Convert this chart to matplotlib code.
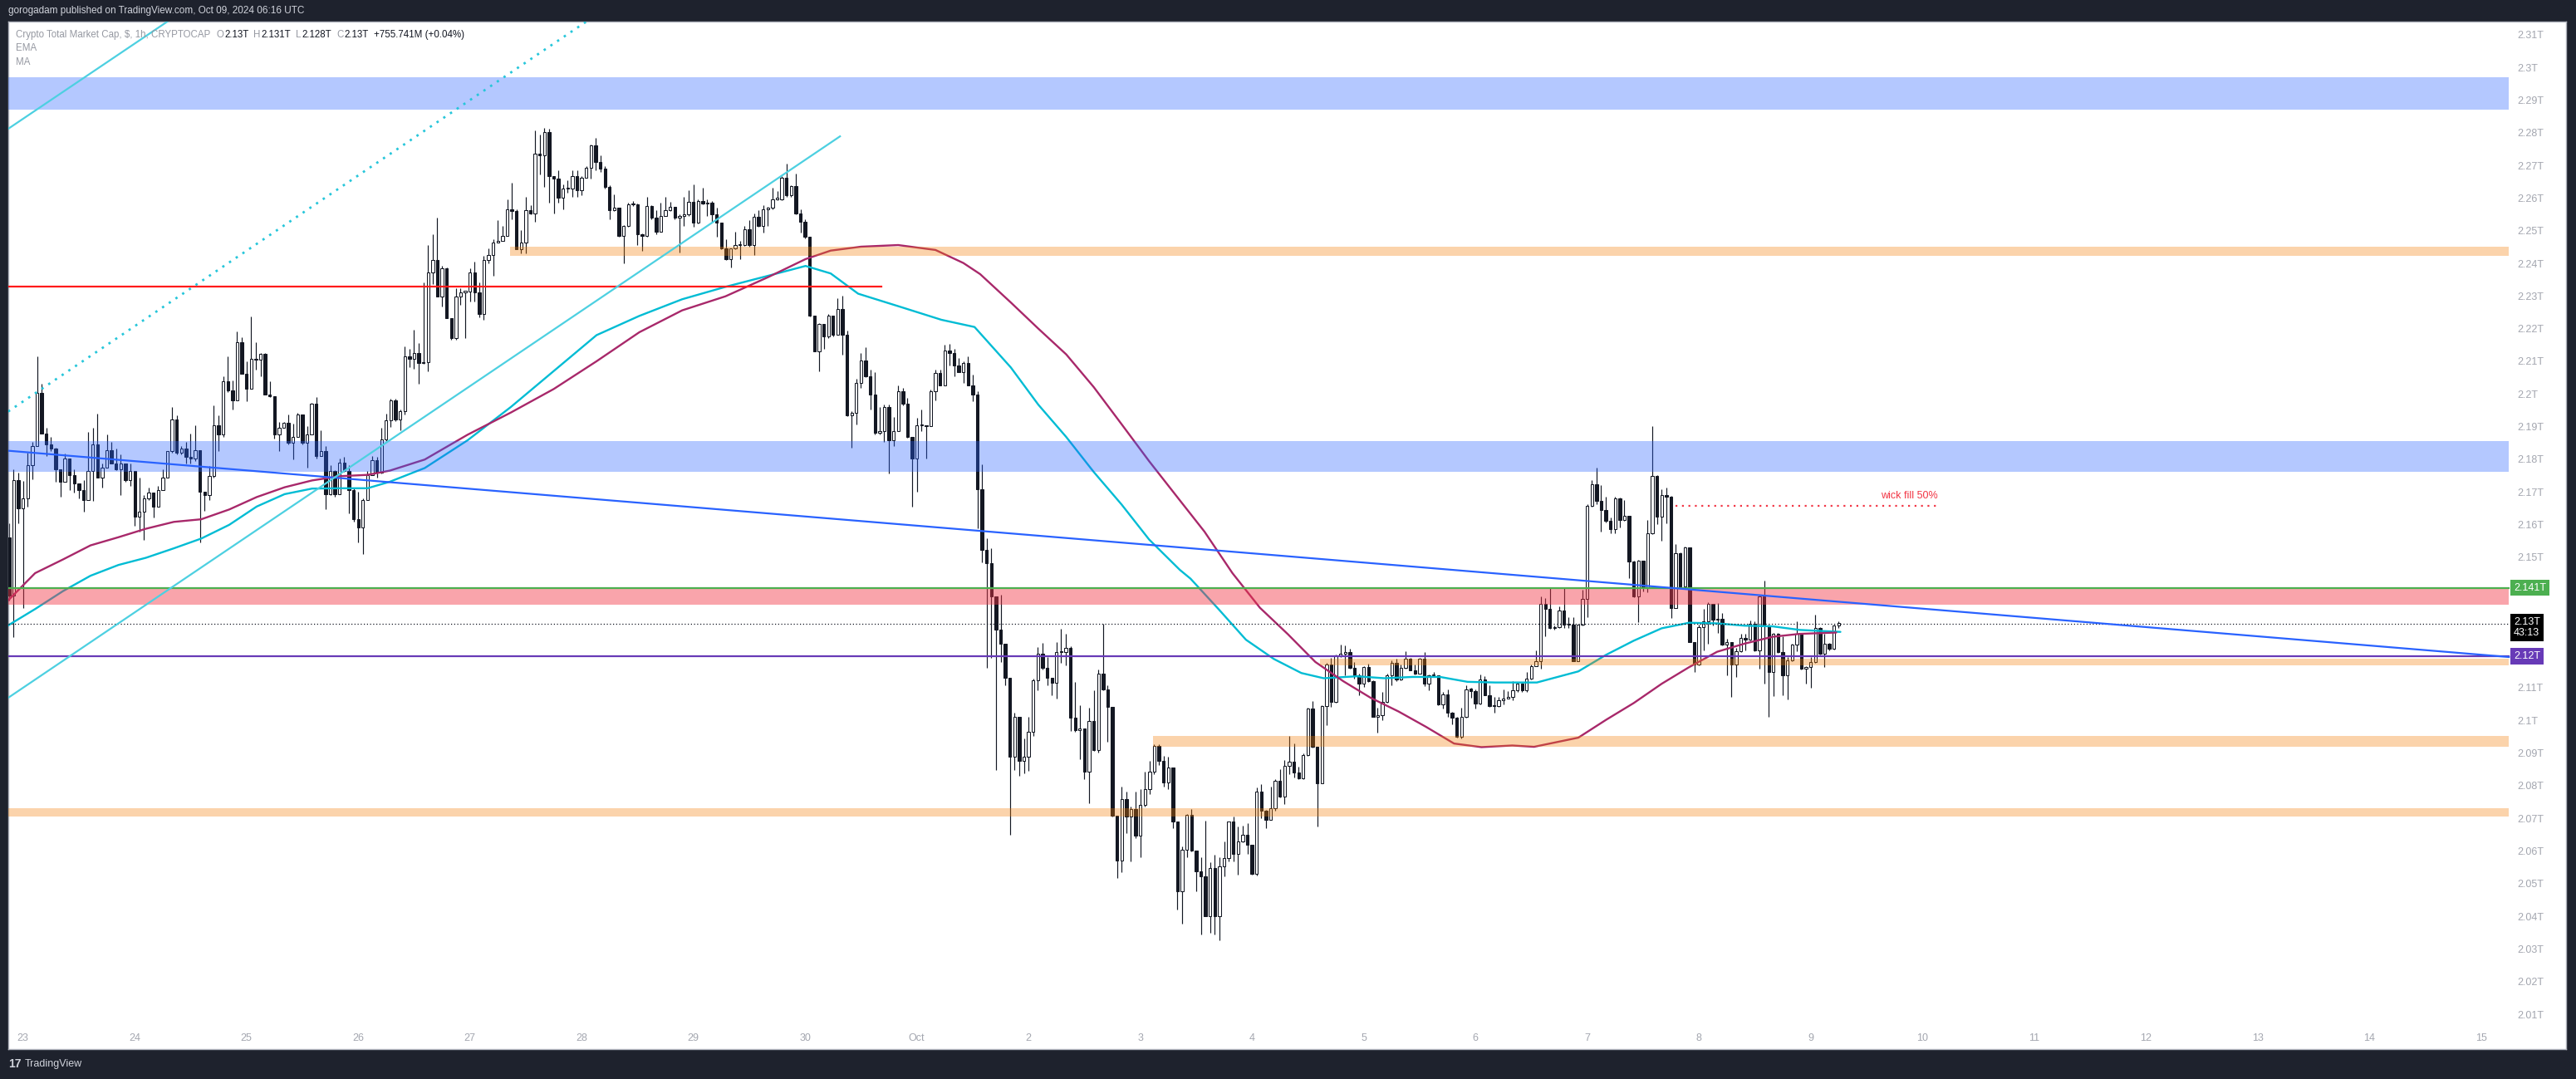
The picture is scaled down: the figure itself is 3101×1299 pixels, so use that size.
import matplotlib
matplotlib.use("Agg")
import matplotlib.pyplot as plt
import numpy as np
from matplotlib.transforms import blended_transform_factory

plt.rcParams['font.family'] = ['Liberation Sans', 'DejaVu Sans']

# ---------------- data (prices in billions of $, 1h candles) ----------------
# first candle is Sep 22 21:00 UTC; hours are counted from Sep 23 00:00
START_HOUR = -3
FIRST_OPEN = 2156.5

CLOSES = [
    2138.7, 2173.9, 2165.4, 2168.4, 2178.6, 2184.5, 2200.6, 2188.3, 2184.9, 2183.7, 2177.3, 2173.5,
    2180.7, 2175.6, 2173.1, 2171.0, 2168.0, 2176.9, 2184.9, 2174.8, 2177.7, 2183.2, 2179.0, 2177.3,
    2179.0, 2173.9, 2176.9, 2162.9, 2164.2, 2168.4, 2170.1, 2165.9, 2171.0, 2174.8, 2182.8, 2192.6,
    2182.4, 2183.7, 2181.1, 2180.5, 2183.1, 2170.5, 2169.3, 2175.2, 2190.7, 2187.9, 2204.2, 2201.5,
    2198.3, 2216.3, 2206.6, 2201.9, 2211.1, 2210.9, 2212.7, 2200.2, 2199.8, 2187.9, 2190.0, 2191.5,
    2185.4, 2187.3, 2194.0, 2185.4, 2187.9, 2197.4, 2181.5, 2182.8, 2169.7, 2176.9, 2169.7, 2179.4,
    2176.9, 2171.0, 2162.0, 2159.5, 2168.0, 2175.6, 2180.0, 2176.4, 2186.4, 2192.2, 2198.5, 2192.5,
    2195.1, 2212.0, 2211.2, 2212.9, 2209.9, 2210.1, 2237.5, 2241.3, 2230.3, 2238.8, 2223.5, 2217.6,
    2230.3, 2231.6, 2231.8, 2237.5, 2231.6, 2224.8, 2241.3, 2243.0, 2246.8, 2247.2, 2248.9, 2257.0,
    2256.4, 2244.7, 2246.8, 2256.6, 2255.7, 2274.0, 2273.5, 2280.5, 2267.2, 2266.3, 2260.4, 2263.2,
    2263.2, 2267.2, 2262.7, 2266.7, 2269.7, 2276.5, 2271.4, 2269.3, 2263.8, 2256.6, 2257.4, 2248.9,
    2251.9, 2258.4, 2258.4, 2249.4, 2248.9, 2258.0, 2254.4, 2250.2, 2255.0, 2256.6, 2257.6, 2254.4,
    2254.9, 2255.3, 2259.3, 2252.8, 2259.5, 2258.7, 2259.0, 2255.3, 2252.8, 2245.1, 2241.7, 2244.9,
    2246.0, 2246.0, 2250.8, 2246.0, 2254.7, 2251.9, 2257.0, 2257.4, 2260.1, 2260.1, 2266.6, 2261.2,
    2264.0, 2255.7, 2253.2, 2248.5, 2224.3, 2213.5, 2221.8, 2218.0, 2224.3, 2218.5, 2226.4, 2218.5,
    2193.8, 2194.7, 2203.8, 2210.7, 2205.8, 2200.1, 2188.5, 2189.0, 2196.5, 2186.1, 2188.9, 2201.1,
    2197.4, 2187.1, 2180.5, 2190.7, 2190.7, 2190.5, 2201.1, 2206.7, 2203.1, 2213.8, 2212.9, 2209.1,
    2207.1, 2209.8, 2203.1, 2200.1, 2171.2, 2152.5, 2148.5, 2138.3, 2128.1, 2123.9, 2113.5, 2089.2,
    2101.5, 2087.9, 2089.2, 2097.0, 2112.6, 2120.9, 2116.6, 2113.5, 2111.9, 2121.2, 2121.2, 2122.5,
    2101.2, 2097.5, 2097.9, 2084.6, 2100.2, 2091.2, 2114.6, 2109.9, 2104.6, 2071.3, 2057.5, 2076.2,
    2070.9, 2073.3, 2065.0, 2074.6, 2079.3, 2084.6, 2092.6, 2087.9, 2081.5, 2085.9, 2069.5, 2048.1,
    2060.8, 2071.5, 2060.5, 2054.1, 2052.6, 2040.5, 2055.2, 2040.5, 2055.8, 2058.1, 2069.3, 2059.4,
    2063.2, 2065.3, 2062.2, 2053.5, 2078.5, 2072.6, 2070.0, 2073.4, 2082.0, 2077.0, 2086.5, 2087.8,
    2084.4, 2082.7, 2089.7, 2103.9, 2092.2, 2081.0, 2104.8, 2117.5, 2106.0, 2120.1, 2120.9, 2121.3,
    2116.6, 2114.3, 2111.6, 2116.8, 2112.4, 2101.6, 2102.0, 2106.0, 2114.3, 2117.9, 2112.8, 2116.6,
    2119.2, 2115.8, 2114.8, 2119.4, 2111.7, 2114.1, 2114.1, 2105.2, 2108.3, 2102.7, 2101.2, 2095.3,
    2101.4, 2110.0, 2109.4, 2105.6, 2112.8, 2108.2, 2104.8, 2104.8, 2106.5, 2107.1, 2107.7, 2109.5,
    2111.6, 2109.5, 2113.3, 2117.1, 2118.6, 2136.0, 2134.5, 2128.7, 2129.0, 2134.1, 2129.8, 2129.8,
    2118.6, 2129.6, 2137.5, 2166.0, 2172.6, 2167.6, 2164.9, 2161.5, 2158.9, 2168.4, 2161.8, 2163.1,
    2149.1, 2138.3, 2149.3, 2140.9, 2157.6, 2175.2, 2162.9, 2169.4, 2168.8, 2134.9, 2151.6, 2141.3,
    2153.3, 2124.5, 2117.5, 2129.0, 2130.7, 2136.0, 2131.3, 2131.5, 2123.6, 2124.5, 2117.5, 2121.6,
    2125.6, 2125.2, 2130.1, 2121.8, 2138.3, 2129.4, 2115.2, 2127.0, 2121.4, 2114.3, 2118.8, 2123.6,
    2126.9, 2116.3, 2116.7, 2118.2, 2128.6, 2120.8, 2123.9, 2122.3, 2129.4, 2130.3,
]

HIGHS = [
    2160.8, 2177.3, 2176.2, 2173.7, 2182.4, 2185.8, 2211.9, 2203.6, 2190.0, 2187.1, 2184.0, 2177.3,
    2182.1, 2180.7, 2177.3, 2173.1, 2173.9, 2188.8, 2190.0, 2194.3, 2179.0, 2187.9, 2185.8, 2183.7,
    2182.0, 2179.0, 2179.0, 2176.9, 2174.8, 2169.3, 2171.8, 2170.1, 2172.2, 2177.3, 2182.8, 2196.4,
    2193.8, 2184.5, 2185.8, 2188.3, 2190.9, 2183.1, 2170.5, 2178.2, 2196.8, 2193.8, 2205.9, 2211.9,
    2204.6, 2219.5, 2217.8, 2210.4, 2224.2, 2216.3, 2213.0, 2213.0, 2204.2, 2199.8, 2191.7, 2191.7,
    2194.0, 2191.3, 2194.5, 2194.0, 2190.5, 2197.7, 2199.4, 2189.2, 2184.5, 2178.6, 2177.0, 2180.5,
    2181.1, 2178.6, 2171.5, 2170.5, 2168.5, 2176.9, 2181.3, 2181.1, 2190.0, 2194.3, 2198.9, 2198.9,
    2195.5, 2215.0, 2214.2, 2220.1, 2215.9, 2234.5, 2246.0, 2249.4, 2254.4, 2239.6, 2239.2, 2223.5,
    2232.8, 2232.8, 2232.0, 2238.8, 2240.9, 2234.5, 2242.6, 2245.1, 2247.7, 2253.6, 2251.9, 2260.0,
    2265.0, 2257.0, 2250.6, 2260.8, 2258.3, 2281.2, 2279.9, 2282.0, 2281.6, 2267.2, 2268.9, 2264.6,
    2265.9, 2268.9, 2268.9, 2267.2, 2270.1, 2276.9, 2278.8, 2273.4, 2270.1, 2264.2, 2261.5, 2257.4,
    2252.2, 2259.1, 2259.5, 2258.7, 2249.5, 2260.8, 2258.3, 2256.6, 2259.1, 2260.8, 2259.3, 2257.8,
    2255.3, 2260.8, 2262.7, 2264.6, 2259.9, 2263.5, 2260.0, 2259.5, 2257.4, 2251.9, 2247.7, 2245.1,
    2250.0, 2247.2, 2251.9, 2253.6, 2255.7, 2256.6, 2258.3, 2257.8, 2263.5, 2262.5, 2267.2, 2271.0,
    2264.2, 2268.0, 2257.0, 2254.0, 2248.5, 2224.3, 2222.0, 2221.8, 2225.0, 2224.4, 2229.8, 2230.4,
    2219.8, 2195.0, 2205.1, 2212.9, 2214.7, 2207.8, 2207.1, 2196.5, 2197.1, 2197.1, 2193.4, 2203.1,
    2202.2, 2199.1, 2187.1, 2193.1, 2195.5, 2190.7, 2201.8, 2207.8, 2207.8, 2215.5, 2215.8, 2214.2,
    2211.5, 2210.5, 2211.8, 2206.2, 2201.1, 2178.8, 2156.1, 2153.2, 2138.3, 2138.8, 2123.9, 2113.5,
    2102.8, 2101.5, 2094.8, 2101.5, 2113.2, 2122.8, 2124.1, 2119.9, 2113.5, 2124.5, 2128.5, 2126.8,
    2123.2, 2112.2, 2105.0, 2097.9, 2104.2, 2109.5, 2116.0, 2130.1, 2111.2, 2104.6, 2071.3, 2080.2,
    2078.6, 2073.9, 2078.6, 2079.3, 2084.6, 2087.9, 2093.2, 2093.2, 2089.5, 2089.2, 2086.0, 2069.5,
    2061.7, 2071.7, 2073.2, 2060.5, 2058.6, 2069.6, 2056.9, 2059.2, 2058.6, 2063.2, 2069.3, 2070.9,
    2067.9, 2068.1, 2069.0, 2062.2, 2079.8, 2080.9, 2073.0, 2080.2, 2082.3, 2085.4, 2088.2, 2095.6,
    2093.3, 2086.3, 2090.4, 2104.4, 2106.3, 2092.2, 2105.0, 2117.9, 2119.6, 2120.5, 2123.6, 2123.3,
    2122.4, 2118.3, 2114.8, 2117.1, 2117.7, 2112.6, 2104.4, 2109.0, 2114.8, 2118.8, 2119.4, 2117.5,
    2121.6, 2119.6, 2117.5, 2119.6, 2121.3, 2114.5, 2115.1, 2114.3, 2109.2, 2109.9, 2103.1, 2101.4,
    2104.4, 2111.1, 2110.3, 2109.9, 2114.5, 2113.9, 2111.1, 2107.5, 2107.7, 2109.9, 2109.4, 2112.4,
    2112.0, 2112.0, 2115.2, 2117.5, 2121.8, 2138.3, 2137.9, 2140.9, 2129.4, 2135.2, 2140.9, 2132.0,
    2132.0, 2129.8, 2140.3, 2166.7, 2173.9, 2177.9, 2172.5, 2168.8, 2162.6, 2168.8, 2168.6, 2168.0,
    2163.1, 2149.3, 2149.5, 2149.3, 2161.8, 2190.5, 2175.4, 2171.1, 2171.8, 2169.1, 2154.4, 2151.9,
    2153.6, 2153.3, 2124.5, 2129.6, 2134.5, 2136.6, 2136.0, 2136.4, 2133.2, 2125.3, 2124.5, 2122.6,
    2127.0, 2127.0, 2130.9, 2130.7, 2138.7, 2143.1, 2129.6, 2127.3, 2127.3, 2126.2, 2119.7, 2123.9,
    2130.7, 2127.3, 2117.0, 2119.7, 2132.8, 2129.0, 2127.0, 2124.0, 2129.8, 2130.7,
]

LOWS = [
    2137.0, 2126.0, 2160.8, 2134.9, 2165.9, 2174.3, 2184.5, 2188.3, 2181.5, 2183.0, 2173.5, 2168.8,
    2173.5, 2171.0, 2170.1, 2168.4, 2164.2, 2168.0, 2167.6, 2174.8, 2171.8, 2177.7, 2179.0, 2177.0,
    2169.3, 2173.5, 2172.2, 2160.1, 2158.2, 2155.7, 2168.0, 2162.5, 2165.9, 2170.9, 2174.8, 2182.4,
    2182.0, 2182.0, 2179.0, 2179.0, 2179.9, 2155.0, 2164.6, 2168.0, 2174.8, 2182.8, 2187.1, 2201.0,
    2195.5, 2198.3, 2206.6, 2198.1, 2201.9, 2207.8, 2205.7, 2200.2, 2199.5, 2186.6, 2183.0, 2190.0,
    2185.0, 2180.3, 2187.3, 2185.0, 2177.7, 2187.9, 2180.7, 2181.5, 2165.0, 2169.3, 2169.0, 2169.7,
    2176.5, 2163.7, 2161.2, 2154.8, 2151.4, 2168.0, 2175.6, 2174.8, 2176.0, 2186.0, 2190.4, 2192.0,
    2189.2, 2194.2, 2208.7, 2208.2, 2203.6, 2209.5, 2207.4, 2234.1, 2230.3, 2227.3, 2223.5, 2217.1,
    2216.9, 2227.7, 2217.6, 2228.6, 2228.6, 2223.9, 2223.1, 2240.5, 2236.6, 2246.8, 2247.2, 2248.9,
    2254.0, 2244.7, 2243.4, 2243.4, 2255.5, 2253.2, 2267.6, 2263.8, 2259.1, 2255.7, 2259.1, 2257.0,
    2262.0, 2260.8, 2260.8, 2261.2, 2266.5, 2266.3, 2268.9, 2268.5, 2263.4, 2254.0, 2256.4, 2248.5,
    2240.5, 2251.5, 2258.0, 2246.0, 2244.3, 2248.5, 2254.0, 2249.4, 2250.2, 2254.8, 2256.4, 2254.0,
    2243.8, 2251.9, 2255.0, 2251.5, 2252.5, 2258.4, 2254.9, 2253.2, 2248.5, 2244.7, 2241.3, 2239.2,
    2244.7, 2241.7, 2245.8, 2245.5, 2243.0, 2251.5, 2249.8, 2251.9, 2257.0, 2259.8, 2259.8, 2260.8,
    2260.8, 2255.5, 2249.8, 2248.0, 2224.0, 2213.5, 2207.4, 2214.2, 2217.6, 2218.0, 2218.5, 2212.5,
    2193.5, 2183.8, 2191.1, 2202.2, 2205.5, 2195.5, 2188.0, 2188.1, 2185.8, 2176.1, 2184.5, 2188.9,
    2197.0, 2187.0, 2165.8, 2170.5, 2189.1, 2180.5, 2190.5, 2198.5, 2203.0, 2203.0, 2209.1, 2205.8,
    2207.0, 2203.8, 2203.0, 2198.2, 2159.2, 2148.9, 2116.6, 2119.6, 2085.3, 2118.3, 2111.2, 2065.3,
    2085.3, 2083.3, 2084.2, 2085.0, 2095.6, 2109.5, 2116.0, 2111.2, 2108.2, 2107.2, 2117.9, 2117.2,
    2097.2, 2097.0, 2088.6, 2082.3, 2074.9, 2091.0, 2090.6, 2109.5, 2093.9, 2071.0, 2052.0, 2053.9,
    2065.9, 2057.3, 2064.2, 2058.6, 2074.0, 2077.9, 2084.0, 2086.6, 2080.2, 2079.3, 2067.3, 2042.4,
    2038.2, 2058.6, 2060.3, 2048.0, 2034.8, 2040.3, 2035.2, 2034.8, 2033.1, 2052.6, 2057.3, 2057.3,
    2053.2, 2063.0, 2059.4, 2053.2, 2053.0, 2070.4, 2067.3, 2069.8, 2072.6, 2076.8, 2074.7, 2084.0,
    2082.9, 2082.5, 2082.5, 2089.5, 2092.0, 2067.9, 2081.0, 2099.0, 2104.6, 2105.8, 2119.9, 2114.1,
    2116.3, 2113.3, 2108.2, 2110.7, 2112.2, 2101.4, 2096.7, 2100.5, 2105.8, 2111.1, 2112.5, 2112.6,
    2116.2, 2115.6, 2114.5, 2114.6, 2110.9, 2109.7, 2113.8, 2105.0, 2103.9, 2101.4, 2099.3, 2095.0,
    2094.8, 2101.2, 2107.3, 2103.9, 2105.4, 2108.0, 2104.6, 2102.7, 2104.5, 2105.2, 2107.0, 2106.5,
    2109.1, 2109.0, 2109.0, 2113.0, 2117.0, 2116.3, 2126.2, 2128.5, 2128.1, 2128.8, 2128.7, 2128.6,
    2118.4, 2118.4, 2129.4, 2132.0, 2165.8, 2166.7, 2158.1, 2161.0, 2157.8, 2157.6, 2159.5, 2161.5,
    2144.0, 2138.0, 2130.4, 2139.8, 2139.6, 2157.4, 2160.4, 2155.3, 2160.8, 2131.8, 2134.7, 2141.0,
    2141.0, 2124.3, 2115.2, 2117.3, 2121.8, 2123.9, 2129.4, 2127.3, 2123.3, 2114.1, 2107.5, 2113.7,
    2121.4, 2121.8, 2125.0, 2121.6, 2116.3, 2111.6, 2101.6, 2107.8, 2121.0, 2108.2, 2106.7, 2118.5,
    2121.6, 2116.0, 2111.6, 2110.3, 2118.0, 2120.5, 2116.7, 2121.8, 2122.0, 2128.6,
]

# indicator lines (hour, value in billions)
EMA_HOURS = [-3.3, 2.6, 8.6, 14.5, 20.5, 26.4, 32.4, 38.3, 44.3, 50.2, 56.2, 62.1, 68.1, 74.0, 78.8,
             86.3, 95.5, 104.8, 114.0, 123.2, 132.4, 141.6, 150.9, 160.1, 168.1, 173.5,
             179.4, 188.4, 197.3, 204.4, 212.2, 218.1, 224.1, 230.0, 236.0, 241.9, 248.5,
             250.8, 256.8, 262.7, 268.7, 274.6, 279.4, 286.5, 292.5, 298.4, 304.4, 310.3, 316.3,
             325.2, 334.1, 340.1, 346.0, 352.0, 357.9, 363.9, 369.8, 375.8, 381.7, 390.4]
EMA_VALUES = [2129.4, 2134.5, 2140.0, 2144.7, 2148.0, 2150.2, 2153.1, 2156.1, 2160.3, 2165.9, 2169.7, 2171.4, 2171.5, 2171.5, 2173.5,
              2177.7, 2186.2, 2196.4, 2207.4, 2218.4, 2224.3, 2229.4, 2233.2, 2236.6, 2239.6, 2237.3,
              2231.1, 2227.1, 2223.1, 2220.9, 2208.5, 2197.1, 2187.2, 2176.5, 2166.5, 2155.8, 2146.5,
              2143.8, 2134.5, 2125.1, 2119.2, 2114.9, 2113.3, 2113.9, 2113.3, 2113.7, 2113.7, 2112.2, 2112.0,
              2112.0, 2115.4, 2120.5, 2124.8, 2128.6, 2130.3, 2130.1, 2129.4, 2129.2, 2128.1, 2127.5]

MA_HOURS = [-3.3, 2.6, 8.6, 14.5, 20.5, 26.4, 32.4, 38.3, 44.3, 50.2, 56.2, 62.1, 68.1, 74.0, 78.8,
            86.3, 95.5, 104.8, 114.0, 123.2, 132.4, 141.6, 150.9, 160.1, 168.1, 173.5,
            180.0, 188.0, 196.0, 202.0,
            205.6, 212.2, 218.1, 224.1, 230.0, 236.0, 241.9, 248.5,
            253.8, 259.8, 265.7, 271.7, 277.6, 283.6, 289.5, 295.5, 301.4, 307.4, 313.3, 319.9,
            324.6, 334.1, 340.1, 346.0, 352.0, 357.9, 363.9, 369.8, 375.8, 381.7, 389.5]
MA_VALUES = [2137.0, 2145.5, 2149.7, 2154.0, 2156.5, 2159.1, 2161.2, 2162.0, 2165.0, 2168.8, 2171.8, 2173.9, 2175.2, 2175.6, 2176.9,
             2180.3, 2187.9, 2194.7, 2201.9, 2210.4, 2219.3, 2226.0, 2230.3, 2236.2, 2241.7, 2244.3,
             2245.5, 2246.0, 2244.5, 2240.5,
             2237.1, 2228.4, 2220.4, 2212.5, 2202.5, 2191.1, 2179.8, 2167.8,
             2158.2, 2145.5, 2134.9, 2126.8, 2118.3, 2112.4, 2107.3, 2103.1, 2098.4, 2093.3, 2092.2, 2092.7,
             2092.3, 2095.1, 2100.6, 2105.7, 2111.6, 2116.7, 2121.4, 2123.9, 2126.0, 2126.9, 2127.3]

DAY_LABELS = ['23', '24', '25', '26', '27', '28', '29', '30', 'Oct', '2', '3', '4',
              '5', '6', '7', '8', '9', '10', '11', '12', '13', '14', '15']

PRICE_TICKS = [2.01, 2.02, 2.03, 2.04, 2.05, 2.06, 2.07, 2.08, 2.09, 2.10, 2.11, 2.12, 2.13, 2.14, 2.15, 2.16,
               2.17, 2.18, 2.19, 2.20, 2.21, 2.22, 2.23, 2.24, 2.25, 2.26, 2.27, 2.28, 2.29, 2.30, 2.31]
PRICE_TICK_LABELS = ['2.01T', '2.02T', '2.03T', '2.04T', '2.05T', '2.06T', '2.07T', '2.08T', '2.09T', '2.1T',
                     '2.11T', '2.12T', '2.13T', '2.14T', '2.15T', '2.16T', '2.17T', '2.18T', '2.19T', '2.2T',
                     '2.21T', '2.22T', '2.23T', '2.24T', '2.25T', '2.26T', '2.27T', '2.28T', '2.29T', '2.3T', '2.31T']

# drawings (price in trillions, x in hours)
BLUE_ZONES = [(2.2875, 2.2974), (2.1766, 2.1860)]
ORANGE_ZONES = [(104.6, 2.2427, 2.2455), (278.6, 2.1173, 2.1192), (242.7, 2.0922, 2.0955), (-3.2, 2.0710, 2.0735)]
PINK_ZONE = (2.1358, 2.1410)
GREEN_LEVEL = 2.141
PURPLE_LEVEL = 2.12
LAST_PRICE = 2.13
RED_LEVEL = 2.2333
RED_LEVEL_END = 184.4
TREND_BLUE = ([-3.2, 534.0], [2.1830, 2.1198])
CHANNEL_LOW = ([-3.2, 175.5], [2.1073, 2.2793])
CHANNEL_MID = ([-3.2, 130.0], [2.1950, 2.3231])
CHANNEL_TOP = ([-3.2, 40.0], [2.2816, 2.3231])
WICK_FILL = (355.0, 411.4, 2.1661)

# ---------------- layout (pixels of the 3101x1299 picture) ----------------
W, H = 3101, 1299
BG = '#1e222d'
PX_PER_HOUR = 5.604
X_HOUR0 = 27.7            # pixel of Sep 23 00:00
PX_PER_T = 3930.0
Y_231 = 43.5              # pixel of 2.31T
BOX_L, BOX_R, BOX_T, BOX_B = 10, 3089, 26, 1263
PLOT_RIGHT = 3020         # where drawings stop, price scale starts


def hour_of(px):
    return (px - X_HOUR0) / PX_PER_HOUR


def price_of(py):
    return 2.31 - (py - Y_231) / PX_PER_T


fig = plt.figure(figsize=(W / 100, H / 100), dpi=100, facecolor=BG)
ax = fig.add_axes([BOX_L / W, 1 - BOX_B / H, (BOX_R - BOX_L) / W, (BOX_B - BOX_T) / H])
ax.set_facecolor('white')
ax.set_xlim(hour_of(BOX_L), hour_of(BOX_R))
ax.set_ylim(price_of(BOX_B), price_of(BOX_T))
ax.set_xticks([])
ax.set_yticks([])
for s in ax.spines.values():
    s.set_color('#b2b5be')
    s.set_linewidth(1.0)

t_end = hour_of(PLOT_RIGHT)
t_start = hour_of(BOX_L)

# candles
n = min(len(CLOSES), len(HIGHS), len(LOWS))
hrs = np.arange(n) + START_HOUR
c = np.array(CLOSES[:n]) / 1000
o = np.concatenate([[FIRST_OPEN / 1000], c[:-1]])
hi = np.maximum(np.array(HIGHS[:n]) / 1000, np.maximum(o, c))
lo = np.minimum(np.array(LOWS[:n]) / 1000, np.minimum(o, c))
up = c >= o
ink = '#131722'
ax.vlines(hrs, lo, hi, color=ink, lw=0.85, zorder=2)
body_bottom = np.minimum(o, c)
body_h = np.maximum(np.abs(c - o), 0.0003)
ax.bar(hrs, body_h, bottom=body_bottom, width=0.6,
       color=['white' if u else ink for u in up], edgecolor=ink, linewidth=0.75, zorder=3)

# indicators
ax.plot(EMA_HOURS, np.array(EMA_VALUES) / 1000, color='#00bcd4', lw=1.7, zorder=4, solid_capstyle='round')
ax.plot(MA_HOURS, np.array(MA_VALUES) / 1000, color='#a8286a', lw=1.7, zorder=4, solid_capstyle='round')

# zones
for z_lo, z_hi in BLUE_ZONES:
    ax.fill_between([t_start, t_end], z_lo, z_hi, color='#2962ff', alpha=0.35, lw=0, zorder=5)
for z_t, z_lo, z_hi in ORANGE_ZONES:
    ax.fill_between([max(z_t, t_start), t_end], z_lo, z_hi, color='#f57c00', alpha=0.33, lw=0, zorder=5)
ax.fill_between([t_start, t_end], PINK_ZONE[0], PINK_ZONE[1], color='#f23645', alpha=0.45, lw=0, zorder=5)

# levels and trend lines
ax.plot([t_start, t_end], [GREEN_LEVEL, GREEN_LEVEL], color='#4caf50', lw=1.6, zorder=6)
ax.plot([t_start, t_end], [PURPLE_LEVEL, PURPLE_LEVEL], color='#673ab7', lw=1.6, zorder=6)
ax.plot([t_start, t_end], [LAST_PRICE, LAST_PRICE], color='#131722', lw=0.9, ls=(0, (1, 2)), zorder=6)
ax.plot([t_start, RED_LEVEL_END], [RED_LEVEL, RED_LEVEL], color='#ff1a1a', lw=1.6, zorder=6)
ax.plot(TREND_BLUE[0], TREND_BLUE[1], color='#2962ff', lw=1.6, zorder=6)
ax.plot(CHANNEL_LOW[0], CHANNEL_LOW[1], color='#4dd0e1', lw=1.6, zorder=6)
ax.plot(CHANNEL_TOP[0], CHANNEL_TOP[1], color='#4dd0e1', lw=1.6, zorder=6)
ax.plot(CHANNEL_MID[0], CHANNEL_MID[1], color='#26c6da', lw=2.0, ls=(0, (1, 2.5)), zorder=6)
ax.plot([WICK_FILL[0], WICK_FILL[1]], [WICK_FILL[2], WICK_FILL[2]], color='#f23645', lw=1.6,
        ls=(0, (1, 2.5)), zorder=6)
ax.annotate('wick fill 50%', xy=(WICK_FILL[1], WICK_FILL[2]), xytext=(0, 4), textcoords='offset points',
            ha='right', va='bottom', color='#f23645', fontsize=9, zorder=7)

# price scale (labels hidden behind the level boxes are left out, as on the chart)
scale_x = (3030 - BOX_L) / (BOX_R - BOX_L)
yblend = blended_transform_factory(ax.transAxes, ax.transData)
covered = [GREEN_LEVEL, PURPLE_LEVEL, LAST_PRICE]
for p, lab in zip(PRICE_TICKS, PRICE_TICK_LABELS):
    if min(abs(p - q) for q in covered) < 0.004:
        continue
    ax.text(scale_x, p, lab, transform=yblend, ha='left', va='center', color='#a3a6af', fontsize=9, zorder=7)

box_x = (3026 - BOX_L) / (BOX_R - BOX_L)
ax.text(box_x, GREEN_LEVEL, '2.141T', transform=yblend, ha='left', va='center', color='white', fontsize=9,
        zorder=9, bbox=dict(boxstyle='square,pad=0.3', fc='#4caf50', ec='none'))
ax.text(box_x, PURPLE_LEVEL, '2.12T', transform=yblend, ha='left', va='center', color='white', fontsize=9,
        zorder=9, bbox=dict(boxstyle='square,pad=0.3', fc='#673ab7', ec='none'))
ax.annotate('2.13T\n43:13', xy=(box_x, LAST_PRICE), xycoords=yblend, xytext=(0, 6), textcoords='offset points',
            ha='left', va='top', color='white', fontsize=9, linespacing=1.15, zorder=9,
            bbox=dict(boxstyle='square,pad=0.3', fc='black', ec='none'))

# time scale
date_y = (BOX_B - 1250) / (BOX_B - BOX_T)
xblend = blended_transform_factory(ax.transData, ax.transAxes)
for i, lab in enumerate(DAY_LABELS):
    ax.text(24 * i, date_y, lab, transform=xblend, ha='center', va='center', color='#a3a6af', fontsize=9, zorder=7)

# header, legend and footer text
renderer = fig.canvas.get_renderer()


def put_pieces(x_px, y_px, pieces, size=9, weight='normal'):
    x = x_px
    for s, col, gap in pieces:
        txt = fig.text(x / W, 1 - y_px / H, s, color=col, fontsize=size, ha='left', va='center',
                       fontweight=weight)
        x += txt.get_window_extent(renderer=renderer).width + gap


put_pieces(10, 13, [('gorogadam published on TradingView.com, Oct 09, 2024 06:16 UTC', '#d1d4dc', 0)], size=8.5)
grey = '#9598a1'
put_pieces(19, 42, [('Crypto Total Market Cap, $, 1h, CRYPTOCAP', grey, 7),
                    ('O', grey, 1), ('2.13T', ink, 6), ('H', grey, 1), ('2.131T', ink, 6),
                    ('L', grey, 1), ('2.128T', ink, 6), ('C', grey, 1), ('2.13T', ink, 6),
                    ('+755.741M (+0.04%)', ink, 0)], size=8.3)
put_pieces(19, 58, [('EMA', grey, 0)], size=8.3)
put_pieces(19, 75, [('MA', grey, 0)], size=8.3)
put_pieces(10, 1281, [('17', '#d1d4dc', 0)], size=10, weight='bold')
put_pieces(30, 1281, [('TradingView', '#d1d4dc', 0)], size=9)

fig.savefig('out.png', dpi=100, facecolor=BG)
